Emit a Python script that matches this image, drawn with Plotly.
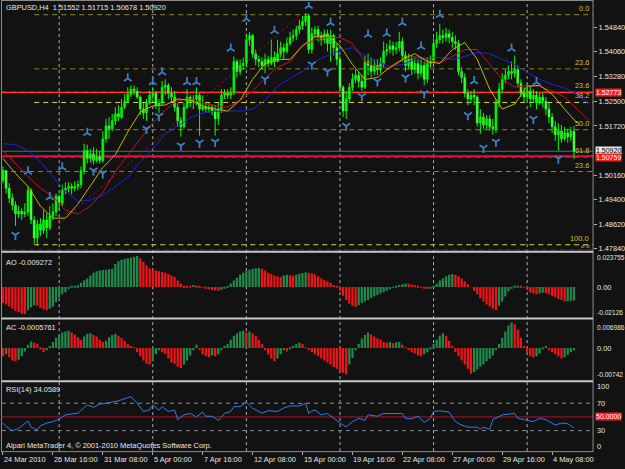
import plotly.graph_objects as go

W, H = 625, 469
BG = "#121212"
FONT = "Liberation Sans"
FS = 7.4

# ---------------- data ----------------
opens = [
    1.5000, 1.5031, 1.4975, 1.4944, 1.4922, 1.4894, 1.4903, 1.4894, 1.4900, 1.4969,
    1.4875, 1.4818, 1.4862, 1.4843, 1.4875, 1.4850, 1.4887, 1.4900, 1.4950, 1.4928,
    1.4969, 1.4975, 1.4981, 1.4975, 1.4981, 1.4987, 1.5031, 1.5094, 1.5069, 1.5084,
    1.5063, 1.5075, 1.5063, 1.5131, 1.5172, 1.5163, 1.5188, 1.5210, 1.5200, 1.5231,
    1.5250, 1.5272, 1.5288, 1.5282, 1.5263, 1.5225, 1.5213, 1.5244, 1.5269, 1.5275,
    1.5238, 1.5244, 1.5294, 1.5300, 1.5275, 1.5263, 1.5231, 1.5188, 1.5169, 1.5231,
    1.5263, 1.5250, 1.5257, 1.5269, 1.5225, 1.5231, 1.5225, 1.5231, 1.5219, 1.5194,
    1.5225, 1.5269, 1.5275, 1.5269, 1.5278, 1.5375, 1.5344, 1.5363, 1.5369, 1.5444,
    1.5457, 1.5400, 1.5382, 1.5375, 1.5363, 1.5382, 1.5369, 1.5388, 1.5375, 1.5400,
    1.5419, 1.5407, 1.5432, 1.5451, 1.5457, 1.5476, 1.5488, 1.5501, 1.5519, 1.5413,
    1.5463, 1.5476, 1.5457, 1.5444, 1.5463, 1.5432, 1.5457, 1.5419, 1.5382, 1.5294,
    1.5219, 1.5257, 1.5294, 1.5319, 1.5332, 1.5313, 1.5294, 1.5375, 1.5363, 1.5344,
    1.5363, 1.5350, 1.5369, 1.5407, 1.5413, 1.5425, 1.5413, 1.5419, 1.5438, 1.5394,
    1.5363, 1.5382, 1.5350, 1.5369, 1.5338, 1.5363, 1.5319, 1.5369, 1.5375, 1.5432,
    1.5444, 1.5457, 1.5451, 1.5463, 1.5451, 1.5438, 1.5432, 1.5344, 1.5325, 1.5275,
    1.5257, 1.5269, 1.5263, 1.5181, 1.5200, 1.5175, 1.5194, 1.5169, 1.5163, 1.5244,
    1.5288, 1.5319, 1.5332, 1.5344, 1.5338, 1.5350, 1.5307, 1.5275, 1.5263, 1.5282,
    1.5257, 1.5269, 1.5244, 1.5263, 1.5250, 1.5225, 1.5200, 1.5169, 1.5144, 1.5156,
    1.5131, 1.5150, 1.5138, 1.51552,
]
highs = [
    1.5044, 1.5031, 1.4991, 1.4959, 1.4934, 1.4919, 1.4912, 1.4928, 1.4981, 1.4975,
    1.4887, 1.4875, 1.4881, 1.4906, 1.4897, 1.4919, 1.4928, 1.4959, 1.4956, 1.4987,
    1.4994, 1.4994, 1.4991, 1.4997, 1.5000, 1.5044, 1.5116, 1.5113, 1.5100, 1.5106,
    1.5100, 1.5094, 1.5156, 1.5194, 1.5200, 1.5210, 1.5231, 1.5238, 1.5257, 1.5272,
    1.5294, 1.5300, 1.5300, 1.5294, 1.5269, 1.5244, 1.5257, 1.5282, 1.5294, 1.5282,
    1.5257, 1.5313, 1.5319, 1.5307, 1.5294, 1.5282, 1.5244, 1.5200, 1.5244, 1.5288,
    1.5269, 1.5269, 1.5294, 1.5275, 1.5269, 1.5244, 1.5244, 1.5241, 1.5238, 1.5244,
    1.5288, 1.5288, 1.5288, 1.5294, 1.5391, 1.5382, 1.5382, 1.5388, 1.5463, 1.5469,
    1.5463, 1.5413, 1.5394, 1.5388, 1.5400, 1.5394, 1.5444, 1.5407, 1.5444, 1.5438,
    1.5432, 1.5451, 1.5469, 1.5476, 1.5488, 1.5507, 1.5519, 1.5529, 1.5526, 1.5482,
    1.5488, 1.5488, 1.5469, 1.5476, 1.5476, 1.5476, 1.5463, 1.5432, 1.5394, 1.5300,
    1.5282, 1.5307, 1.5338, 1.5350, 1.5344, 1.5332, 1.5394, 1.5400, 1.5388, 1.5382,
    1.5382, 1.5388, 1.5438, 1.5432, 1.5444, 1.5438, 1.5438, 1.5469, 1.5451, 1.5407,
    1.5400, 1.5394, 1.5388, 1.5382, 1.5382, 1.5375, 1.5388, 1.5394, 1.5451, 1.5469,
    1.5494, 1.5476, 1.5482, 1.5476, 1.5469, 1.5457, 1.5444, 1.5357, 1.5338, 1.5288,
    1.5282, 1.5288, 1.5269, 1.5225, 1.5213, 1.5206, 1.5206, 1.5194, 1.5257, 1.5307,
    1.5338, 1.5350, 1.5363, 1.5375, 1.5394, 1.5363, 1.5319, 1.5294, 1.5307, 1.5300,
    1.5288, 1.5282, 1.5275, 1.5275, 1.5263, 1.5244, 1.5213, 1.5188, 1.5181, 1.5175,
    1.5169, 1.5163, 1.5169, 1.51715,
]
lows = [
    1.4991, 1.4959, 1.4928, 1.4906, 1.4856, 1.4881, 1.4875, 1.4884, 1.4887, 1.4862,
    1.4800, 1.4793, 1.4825, 1.4831, 1.4818, 1.4843, 1.4875, 1.4887, 1.4906, 1.4919,
    1.4956, 1.4962, 1.4956, 1.4966, 1.4969, 1.4975, 1.5019, 1.5053, 1.5056, 1.5050,
    1.5056, 1.5053, 1.5056, 1.5119, 1.5131, 1.5156, 1.5175, 1.5188, 1.5194, 1.5225,
    1.5244, 1.5263, 1.5269, 1.5257, 1.5206, 1.5194, 1.5188, 1.5238, 1.5257, 1.5225,
    1.5213, 1.5238, 1.5269, 1.5257, 1.5244, 1.5219, 1.5169, 1.5138, 1.5163, 1.5225,
    1.5231, 1.5225, 1.5238, 1.5141, 1.5219, 1.5213, 1.5213, 1.5206, 1.5141, 1.5175,
    1.5213, 1.5257, 1.5257, 1.5257, 1.5269, 1.5325, 1.5332, 1.5350, 1.5357, 1.5425,
    1.5388, 1.5363, 1.5357, 1.5350, 1.5338, 1.5357, 1.5363, 1.5357, 1.5375, 1.5388,
    1.5382, 1.5400, 1.5425, 1.5438, 1.5444, 1.5463, 1.5476, 1.5488, 1.5400, 1.5400,
    1.5451, 1.5438, 1.5425, 1.5432, 1.5407, 1.5375, 1.5394, 1.5363, 1.5282, 1.5200,
    1.5194, 1.5244, 1.5282, 1.5307, 1.5294, 1.5282, 1.5288, 1.5332, 1.5325, 1.5332,
    1.5332, 1.5338, 1.5357, 1.5394, 1.5400, 1.5394, 1.5400, 1.5407, 1.5375, 1.5344,
    1.5350, 1.5332, 1.5338, 1.5319, 1.5325, 1.5300, 1.5307, 1.5357, 1.5363, 1.5419,
    1.5432, 1.5432, 1.5438, 1.5432, 1.5419, 1.5413, 1.5332, 1.5307, 1.5263, 1.5238,
    1.5244, 1.5238, 1.5169, 1.5147, 1.5163, 1.5163, 1.5156, 1.5144, 1.5150, 1.5231,
    1.5275, 1.5307, 1.5319, 1.5319, 1.5325, 1.5294, 1.5263, 1.5244, 1.5250, 1.5231,
    1.5244, 1.5225, 1.5238, 1.5231, 1.5206, 1.5181, 1.5150, 1.5125, 1.5094, 1.5119,
    1.5125, 1.5119, 1.5125, 1.50678,
]
closes = [
    1.5031, 1.4975, 1.4944, 1.4922, 1.4894, 1.4903, 1.4894, 1.4900, 1.4969, 1.4875,
    1.4818, 1.4862, 1.4843, 1.4875, 1.4850, 1.4887, 1.4900, 1.4950, 1.4928, 1.4969,
    1.4975, 1.4981, 1.4975, 1.4981, 1.4987, 1.5031, 1.5094, 1.5069, 1.5084, 1.5063,
    1.5075, 1.5063, 1.5131, 1.5172, 1.5163, 1.5188, 1.5210, 1.5200, 1.5231, 1.5250,
    1.5272, 1.5288, 1.5282, 1.5263, 1.5225, 1.5213, 1.5244, 1.5269, 1.5275, 1.5238,
    1.5244, 1.5294, 1.5300, 1.5275, 1.5263, 1.5231, 1.5188, 1.5169, 1.5231, 1.5263,
    1.5250, 1.5257, 1.5269, 1.5225, 1.5231, 1.5225, 1.5231, 1.5219, 1.5194, 1.5225,
    1.5269, 1.5275, 1.5269, 1.5278, 1.5375, 1.5344, 1.5363, 1.5369, 1.5444, 1.5457,
    1.5400, 1.5382, 1.5375, 1.5363, 1.5382, 1.5369, 1.5388, 1.5375, 1.5400, 1.5419,
    1.5407, 1.5432, 1.5451, 1.5457, 1.5476, 1.5488, 1.5501, 1.5519, 1.5413, 1.5463,
    1.5476, 1.5457, 1.5444, 1.5463, 1.5432, 1.5457, 1.5419, 1.5382, 1.5294, 1.5219,
    1.5257, 1.5294, 1.5319, 1.5332, 1.5313, 1.5294, 1.5375, 1.5363, 1.5344, 1.5363,
    1.5350, 1.5369, 1.5407, 1.5413, 1.5425, 1.5413, 1.5419, 1.5438, 1.5394, 1.5363,
    1.5382, 1.5350, 1.5369, 1.5338, 1.5363, 1.5319, 1.5369, 1.5375, 1.5432, 1.5444,
    1.5457, 1.5451, 1.5463, 1.5451, 1.5438, 1.5432, 1.5344, 1.5325, 1.5275, 1.5257,
    1.5269, 1.5263, 1.5181, 1.5200, 1.5175, 1.5194, 1.5169, 1.5163, 1.5244, 1.5288,
    1.5319, 1.5332, 1.5344, 1.5338, 1.5350, 1.5307, 1.5275, 1.5263, 1.5282, 1.5257,
    1.5269, 1.5244, 1.5263, 1.5250, 1.5225, 1.5200, 1.5169, 1.5144, 1.5156, 1.5131,
    1.5150, 1.5138, 1.5156, 1.50920,
]

# Alligator lines (read every 4 bars)
jaw_bars = list(range(0, 189, 4))
jaw = [1.5116, 1.5113, 1.5094, 1.5059, 1.5012, 1.4966, 1.4934, 1.4938, 1.4953, 1.4981,
       1.5009, 1.5059, 1.5100, 1.5147, 1.5172, 1.5197, 1.5213, 1.5219, 1.5219, 1.5219,
       1.5225, 1.5253, 1.5297, 1.5322, 1.5344, 1.5375, 1.5394, 1.5410, 1.5419, 1.5394,
       1.5375, 1.5360, 1.5366, 1.5382, 1.5388, 1.5388, 1.5382, 1.5391, 1.5404, 1.5400,
       1.5382, 1.5366, 1.5341, 1.5319, 1.5303, 1.5291, 1.5275, 1.5238]
teeth_bars = list(range(0, 189, 4))
teeth = [1.5094, 1.5053, 1.5012, 1.4975, 1.4950, 1.4906, 1.4894, 1.4919, 1.4962, 1.5028,
         1.5081, 1.5131, 1.5181, 1.5222, 1.5253, 1.5257, 1.5244, 1.5235, 1.5231, 1.5253,
         1.5282, 1.5322, 1.5357, 1.5375, 1.5425, 1.5444, 1.5451, 1.5451, 1.5432, 1.5375,
         1.5357, 1.5354, 1.5379, 1.5391, 1.5382, 1.5372, 1.5391, 1.5413, 1.5413, 1.5366,
         1.5319, 1.5294, 1.5300, 1.5297, 1.5282, 1.5263, 1.5225, 1.5188]
lips_bars = list(range(0, 185, 4))
lips = [1.5069, 1.5022, 1.4981, 1.4919, 1.4881, 1.4881, 1.4925, 1.4984, 1.5041, 1.5081,
        1.5153, 1.5216, 1.5235, 1.5238, 1.5257, 1.5253, 1.5235, 1.5225, 1.5219, 1.5253,
        1.5319, 1.5369, 1.5382, 1.5382, 1.5425, 1.5454, 1.5457, 1.5425, 1.5366, 1.5319,
        1.5325, 1.5357, 1.5382, 1.5400, 1.5375, 1.5369, 1.5413, 1.5435, 1.5382, 1.5288,
        1.5225, 1.5241, 1.5297, 1.5300, 1.5272, 1.5225, 1.5181]

# dotted trend line (drawn object)
trend_bars = [18, 95]
trend_prices = [1.4863, 1.5519]

# Fractals
frac_up_bars = [8, 15, 19, 27, 40, 48, 51, 59, 62, 73, 78, 87, 98, 105, 117, 123, 128, 134, 140, 151, 163, 171]
frac_up_price = [1.5028, 1.4947, 1.5041, 1.5150, 1.5322, 1.5310, 1.5341, 1.5310, 1.5310, 1.5416, 1.5510,
                 1.5472, 1.5551, 1.5497, 1.5460, 1.5463, 1.5497, 1.5422, 1.5522, 1.5313, 1.5416, 1.5310]
frac_dn_bars = [4, 29, 32, 46, 50, 57, 63, 68, 84, 99, 104, 110, 115, 120, 129, 135, 149, 154, 158, 170, 178]
frac_dn_price = [1.4828, 1.5031, 1.5022, 1.5163, 1.5203, 1.5110, 1.5119, 1.5122, 1.5319, 1.5366, 1.5344,
                 1.5172, 1.5266, 1.5313, 1.5325, 1.5275, 1.5206, 1.5103, 1.5122, 1.5194, 1.5069]

# Awesome oscillator
ao = [
    -0.0110, -0.0120, -0.0135, -0.0150, -0.0165, -0.0175, -0.0185, -0.0186, -0.0160, -0.0140,
    -0.0125, -0.0130, -0.0145, -0.0155, -0.0160, -0.0150, -0.0135, -0.0105, -0.0070, -0.0050,
    -0.0035, -0.0015, 0.0003, 0.0008, 0.0012, 0.0030, 0.0045, 0.0060, 0.0080, 0.0100,
    0.0110, 0.0115, 0.0118, 0.0120, 0.0123, 0.0127, 0.0160, 0.0180, 0.0190, 0.0195,
    0.0200, 0.0205, 0.0210, 0.0215, 0.0200, 0.0175, 0.0150, 0.0130, 0.0120, 0.0115,
    0.0110, 0.0105, 0.0100, 0.0090, 0.0080, 0.0070, 0.0045, 0.0025, 0.0010, 0.0008,
    0.0005, 0.0015, 0.0010, 0.0003, -0.0005, -0.0010, -0.0015, -0.0020, -0.0022, -0.0025,
    -0.0018, -0.0008, 0.0010, 0.0025, 0.0045, 0.0065, 0.0085, 0.0100, 0.0110, 0.0120,
    0.0125, 0.0130, 0.0132, 0.0128, 0.0115, 0.0100, 0.0090, 0.0080, 0.0075, 0.0070,
    0.0080, 0.0085, 0.0083, 0.0080, 0.0085, 0.0092, 0.0098, 0.0103, 0.0100, 0.0095,
    0.0088, 0.0075, 0.0060, 0.0050, 0.0040, 0.0030, 0.0015, 0.0005, -0.0025, -0.0060,
    -0.0090, -0.0115, -0.0130, -0.0138, -0.0125, -0.0110, -0.0100, -0.0090, -0.0075, -0.0065,
    -0.0055, -0.0045, -0.0035, -0.0025, -0.0015, -0.0005, 0.0005, 0.0015, 0.0020, 0.0025,
    0.0023, 0.0018, 0.0015, 0.0005, -0.0005, -0.0010, -0.0012, -0.0008, 0.0005, 0.0025,
    0.0045, 0.0060, 0.0075, 0.0085, 0.0090, 0.0085, 0.0075, 0.0060, 0.0040, 0.0020,
    0.0000, -0.0025, -0.0050, -0.0075, -0.0100, -0.0120, -0.0135, -0.0150, -0.0160, -0.0130,
    -0.0100, -0.0065, -0.0030, -0.0010, 0.0005, 0.0010, 0.0005, -0.0005, -0.0020, -0.0035,
    -0.0045, -0.0050, -0.0045, -0.0040, -0.0042, -0.0050, -0.0060, -0.0070, -0.0080, -0.0090,
    -0.0100, -0.0098, -0.0095, -0.009272,
]
# Accelerator oscillator
ac = [
    -0.0020, -0.0015, -0.0022, -0.0030, -0.0032, -0.0028, -0.0020, -0.0008, 0.0008, 0.0016,
    0.0013, 0.0010, -0.0002, -0.0010, -0.0005, 0.0005, 0.0015, 0.0025, 0.0032, 0.0038,
    0.0040, 0.0042, 0.0038, 0.0033, 0.0026, 0.0020, 0.0028, 0.0035, 0.0036, 0.0032,
    0.0028, 0.0020, 0.0015, 0.0018, 0.0026, 0.0032, 0.0035, 0.0030, 0.0025, 0.0018,
    0.0010, 0.0005, 0.0002, -0.0010, -0.0020, -0.0030, -0.0038, -0.0040, -0.0032, -0.0015,
    -0.0005, -0.0010, -0.0015, -0.0025, -0.0035, -0.0038, -0.0045, -0.0048, -0.0040, -0.0030,
    -0.0018, -0.0005, 0.0008, -0.0005, -0.0015, -0.0020, -0.0022, -0.0018, -0.0020, -0.0015,
    -0.0005, 0.0005, 0.0010, 0.0020, 0.0030, 0.0036, 0.0040, 0.0042, 0.0038, 0.0040,
    0.0036, 0.0030, 0.0020, 0.0010, -0.0005, -0.0015, -0.0025, -0.0032, -0.0025, -0.0015,
    -0.0005, -0.0008, -0.0003, 0.0005, 0.0010, 0.0013, 0.0010, 0.0002, -0.0005, -0.0010,
    -0.0015, -0.0020, -0.0025, -0.0030, -0.0035, -0.0040, -0.0046, -0.0050, -0.0056, -0.0060,
    -0.0064, -0.0040, -0.0024, -0.0005, 0.0010, 0.0023, 0.0032, 0.0038, 0.0033, 0.0028,
    0.0023, 0.0020, 0.0015, 0.0013, 0.0015, 0.0012, 0.0014, 0.0015, 0.0008, 0.0002,
    -0.0005, -0.0010, -0.0013, -0.0018, -0.0020, -0.0015, -0.0010, -0.0003, 0.0010, 0.0020,
    0.0030, 0.0036, 0.0030, 0.0018, 0.0005, -0.0010, -0.0020, -0.0030, -0.0040, -0.0050,
    -0.0062, -0.0058, -0.0052, -0.0045, -0.0040, -0.0032, -0.0026, -0.0018, -0.0005, 0.0010,
    0.0025, 0.0040, 0.0055, 0.0062, 0.0058, 0.0045, 0.0025, 0.0005, -0.0010, -0.0020,
    -0.0023, -0.0020, -0.0013, -0.0003, 0.0005, -0.0005, -0.0010, -0.0015, -0.0020, -0.0025,
    -0.0022, -0.0016, -0.0010, -0.0005761,
]
# RSI(14)
rsi_bars = [0, 1, 3, 5, 8, 9, 11, 12, 14, 16, 18, 20, 24, 27, 29, 31, 33, 35, 37, 41,
            43, 45, 47, 48, 50, 51, 53, 55, 56, 58, 60, 62, 64, 65, 67, 69, 71, 73, 74, 76,
            78, 80, 83, 85, 88, 90, 92, 95, 97, 98, 99, 100, 102, 104, 106, 108, 110, 112, 114, 116,
            117, 120, 122, 126, 128, 129, 131, 133, 135, 137, 138, 140, 143, 145, 147, 149, 152, 153, 154, 156,
            157, 160, 162, 164, 165, 168, 170, 172, 174, 176, 177, 179, 181, 182, 183]
rsi_vals = [41, 36, 30, 33, 44, 35, 31, 37, 41, 43, 47, 53, 55.5, 67.6, 64, 68.6, 70, 71.5, 73.5, 79.7,
            70, 58, 60.4, 67.6, 60, 65, 58, 60, 46, 53, 55, 50, 57, 51, 51, 45, 55, 58, 65, 65,
            71.5, 62.8, 55.5, 59, 58, 63, 66, 66, 70, 55, 59, 60, 53, 55, 48, 41, 35.5, 43, 48, 45,
            53, 51, 55, 55, 55, 48, 47, 51, 42, 48, 58, 59, 57, 43, 38, 35, 35, 32, 35, 32,
            46, 53, 54, 55, 48, 45, 43, 48, 46, 41, 38, 41, 40, 37, 34.0589]

# Fibonacci / horizontal levels
fib_prices = [1.5523, 1.5352, 1.5278, 1.5246, 1.5160, 1.5074, 1.5028, 1.4797, 1.4780]
fib_labels = ["0.0", "23.6", "23.6", "38.2", "50.0", "61.8", "23.6", "100.0", ""]
fib_bright = [False, False, True, True, False, False, False, True, False]
fib_start = [10, 10, -1, 10, 10, 10, -1, 10, -1]

price_ticks = [1.5484, 1.5406, 1.5328, 1.5250, 1.5172, 1.5016, 1.4940, 1.4862, 1.4784]
price_tick_text = ["1.54840", "1.54060", "1.53280", "1.52500", "1.51720", "1.50160", "1.49400", "1.48620", "1.47840"]

date_label_bars = [0, 16, 32, 48, 64, 80, 96, 112, 128, 144, 160, 176]
date_labels = ["24 Mar 2010", "26 Mar 16:00", "31 Mar 08:00", "5 Apr 00:00", "7 Apr 16:00", "12 Apr 08:00",
               "15 Apr 00:00", "19 Apr 16:00", "22 Apr 08:00", "27 Apr 00:00", "29 Apr 16:00", "4 May 08:00"]
grid_bars = [18, 48, 78, 108, 138, 168]

# ---------------- helpers ----------------
def py(px):
    return 1 - px / H


def pxx(px):
    return px / W


XR = [-0.32, 189.12]
LIME = "#00ff00"
BULL = "#00e600"
BEAR = "#d8ffd8"
GREEN_H = "#1f8a4a"
RED_H = "#f01418"

fig = go.Figure()
n = len(closes)
xb = list(range(n))

# trend line (under candles)
fig.add_trace(go.Scatter(x=trend_bars, y=trend_prices, mode="lines",
                         line=dict(color="#b01028", width=1, dash="2px,3px"),
                         hoverinfo="skip", xaxis="x", yaxis="y"))

# wicks
wx, wy = [], []
for i in xb:
    wx += [i, i, None]
    wy += [lows[i], highs[i], None]
fig.add_trace(go.Scatter(x=wx, y=wy, mode="lines", line=dict(color=LIME, width=1),
                         hoverinfo="skip", xaxis="x", yaxis="y"))
# bodies
base = [min(o, c) for o, c in zip(opens, closes)]
hgt = [max(abs(c - o), 0.00012) for o, c in zip(opens, closes)]
bcol = [BULL if c >= o else BEAR for o, c in zip(opens, closes)]
fig.add_trace(go.Bar(x=xb, y=hgt, base=base, width=0.62,
                     marker=dict(color=bcol, line=dict(color=LIME, width=0.6)),
                     hoverinfo="skip", xaxis="x", yaxis="y"))

# alligator
fig.add_trace(go.Scatter(x=jaw_bars, y=jaw, mode="lines", line=dict(color="#2222e0", width=1),
                         hoverinfo="skip", xaxis="x", yaxis="y"))
fig.add_trace(go.Scatter(x=teeth_bars, y=teeth, mode="lines", line=dict(color="#c8102a", width=1),
                         hoverinfo="skip", xaxis="x", yaxis="y"))
fig.add_trace(go.Scatter(x=lips_bars, y=lips, mode="lines", line=dict(color="#c8b400", width=1),
                         hoverinfo="skip", xaxis="x", yaxis="y"))

# fractals
FR = "#3b7fc4"
fig.add_trace(go.Scatter(x=frac_up_bars, y=frac_up_price, mode="markers",
                         marker=dict(symbol="y-up", size=6.5, color=FR, line=dict(color=FR, width=1.8)),
                         hoverinfo="skip", xaxis="x", yaxis="y"))
fig.add_trace(go.Scatter(x=frac_dn_bars, y=frac_dn_price, mode="markers",
                         marker=dict(symbol="y-down", size=6.5, color=FR, line=dict(color=FR, width=1.8)),
                         hoverinfo="skip", xaxis="x", yaxis="y"))

# AO / AC histograms
def hist_colors(vals):
    cols = []
    for i, v in enumerate(vals):
        if i == 0:
            cols.append(RED_H)
        else:
            cols.append(GREEN_H if v > vals[i - 1] else RED_H)
    return cols


fig.add_trace(go.Bar(x=xb, y=ao, width=0.72, marker=dict(color=hist_colors(ao), line=dict(width=0)),
                     hoverinfo="skip", xaxis="x", yaxis="y2"))
fig.add_trace(go.Bar(x=xb, y=ac, width=0.72, marker=dict(color=hist_colors(ac), line=dict(width=0)),
                     hoverinfo="skip", xaxis="x", yaxis="y3"))
# RSI
fig.add_trace(go.Scatter(x=rsi_bars, y=rsi_vals, mode="lines", line=dict(color="#2f7fe6", width=1),
                         hoverinfo="skip", xaxis="x", yaxis="y4"))

shapes = []
# vertical weekly grid
for b in grid_bars:
    shapes.append(dict(type="line", xref="x", yref="paper", x0=b, x1=b, y0=py(455), y1=py(1),
                       line=dict(color="#b0b0b0", width=1, dash="3px,3px"), layer="below"))
# fib lines
for p, br, st in zip(fib_prices, fib_bright, fib_start):
    shapes.append(dict(type="line", xref="x", yref="y", x0=(XR[0] if st < 0 else st), x1=XR[1], y0=p, y1=p,
                       line=dict(color=("#d8d83a" if br else "#8a8a22"), width=1, dash="5px,4px"),
                       layer="below"))
# horizontal solid lines
shapes.append(dict(type="line", xref="x", yref="y", x0=XR[0], x1=XR[1], y0=1.52773, y1=1.52773,
                   line=dict(color="#ff3a10", width=1.5), layer="below"))
shapes.append(dict(type="line", xref="x", yref="y", x0=XR[0], x1=XR[1], y0=1.50920, y1=1.50920,
                   line=dict(color="#5a6690", width=1), layer="below"))
shapes.append(dict(type="line", xref="x", yref="y", x0=XR[0], x1=XR[1], y0=1.50759, y1=1.50759,
                   line=dict(color="#e0103c", width=2), layer="below"))
# RSI levels
for lv, col, dash in [(70, "#8c8c8c", "4px,4px"), (30, "#8c8c8c", "4px,4px"), (50, "#b0102a", "solid")]:
    shapes.append(dict(type="line", xref="x", yref="y4", x0=XR[0], x1=XR[1], y0=lv, y1=lv,
                       line=dict(color=col, width=1, dash=dash), layer="below"))
# frame and separators
FRAME = "#8c8c8c"
shapes += [
    dict(type="line", xref="paper", yref="paper", x0=pxx(1.5), x1=pxx(594), y0=py(0.5), y1=py(0.5),
         line=dict(color=FRAME, width=1)),
    dict(type="line", xref="paper", yref="paper", x0=pxx(1.5), x1=pxx(1.5), y0=py(0), y1=py(456),
         line=dict(color=FRAME, width=1)),
    dict(type="line", xref="paper", yref="paper", x0=pxx(594), x1=pxx(594), y0=py(0), y1=py(456),
         line=dict(color=FRAME, width=1)),
    dict(type="line", xref="paper", yref="paper", x0=pxx(1.5), x1=pxx(594), y0=py(455.5), y1=py(455.5),
         line=dict(color=FRAME, width=1)),
]
for sy in [253.8, 321.2, 384.6]:
    shapes.append(dict(type="line", xref="paper", yref="paper", x0=pxx(1.5), x1=pxx(594), y0=py(sy), y1=py(sy),
                       line=dict(color="#c8c8c8", width=2)))

ann = []


def txt(x, y, s, color="#e6e6e6", xanchor="left", size=FS, bg=None, yref="paper", xref="paper"):
    d = dict(x=x, y=y, xref=xref, yref=yref, text=s, showarrow=False, xanchor=xanchor, yanchor="middle",
             font=dict(family=FONT, size=size, color=color), borderpad=0)
    if bg:
        d["bgcolor"] = bg
    ann.append(d)


txt(pxx(5), py(7.5), "GBPUSD,H4  1.51552 1.51715 1.50678 1.50920")
txt(pxx(5), py(264.5), "AO -0.009272")
txt(pxx(5), py(330.5), "AC -0.0005761")
txt(pxx(5), py(392.5), "RSI(14) 34.0589")
txt(pxx(5), py(449), "Alpari MetaTrader 4, © 2001-2010 MetaQuotes Software Corp.")

# fib labels
for p, lab in zip(fib_prices, fib_labels):
    if lab:
        ann.append(dict(x=pxx(592), y=p, xref="paper", yref="y", text=lab, showarrow=False,
                        xanchor="right", yanchor="bottom", font=dict(family=FONT, size=FS, color="#d0c040")))
txt(pxx(592), py(248), "σ σ", color="#d0c040", xanchor="right", size=6)

# highlighted price labels
for p, lab, bg, fg, ys in [(1.52773, "1.52773", "#ff1a1a", "#ffffff", 0),
                           (1.50920, "1.50920", "#e8e8e8", "#000000", 1),
                           (1.50759, "1.50759", "#ff1a1a", "#ffffff", -1)]:
    ann.append(dict(x=pxx(596), y=p, xref="paper", yref="y", text=lab, showarrow=False, xanchor="left",
                    yanchor="middle", yshift=ys, bgcolor=bg, borderpad=0,
                    font=dict(family=FONT, size=7, color=fg)))

# sub-panel scale labels (long ones slightly smaller so they fit the window)
for y, s, sz in [(260, "0.023755", 6.6), (290, "0.00", FS), (315, "-0.02126", 6.6),
                 (330, "0.006986", 6.6), (351.5, "0.00", FS), (378, "-0.00742", 6.6),
                 (390, "100", FS), (406.5, "70", FS), (434, "30", FS), (450, "0", FS)]:
    txt(pxx(597), py(y), s, size=sz)
txt(pxx(596), py(420), "50.0000", color="#ffffff", bg="#ff1a1a", size=7)

# date labels
for b, s in zip(date_label_bars, date_labels):
    ann.append(dict(x=b, y=py(463), xref="x", yref="paper", text=s, showarrow=False, xanchor="left",
                    yanchor="middle", xshift=-1, font=dict(family=FONT, size=FS, color="#e6e6e6")))

axis_common = dict(showgrid=False, zeroline=False)
fig.update_layout(
    width=W, height=H, margin=dict(l=0, r=0, t=0, b=0),
    paper_bgcolor=BG, plot_bgcolor=BG, showlegend=False, barmode="overlay",
    shapes=shapes, annotations=ann,
    xaxis=dict(domain=[pxx(2), pxx(594)], range=XR, anchor="y4", tickvals=date_label_bars,
               ticks="outside", ticklen=3, tickcolor="#b0b0b0", showticklabels=False, showline=False,
               **axis_common),
    yaxis=dict(domain=[py(252), py(2)], range=[1.47809, 1.55631], side="right", anchor="x",
               tickvals=price_ticks, ticktext=price_tick_text, ticks="outside", ticklen=3,
               tickcolor="#b0b0b0", tickfont=dict(family=FONT, size=FS, color="#e6e6e6"),
               showline=False, **axis_common),
    yaxis2=dict(domain=[py(320.5), py(255)], range=[-0.02126, 0.023755], side="right", anchor="x",
                showticklabels=False, ticks="", **axis_common),
    yaxis3=dict(domain=[py(382), py(322)], range=[-0.00742, 0.006986], side="right", anchor="x",
                showticklabels=False, ticks="", **axis_common),
    yaxis4=dict(domain=[py(455), py(386)], range=[0, 100], side="right", anchor="x",
                showticklabels=False, ticks="", **axis_common),
)

fig.write_html("out.html")
